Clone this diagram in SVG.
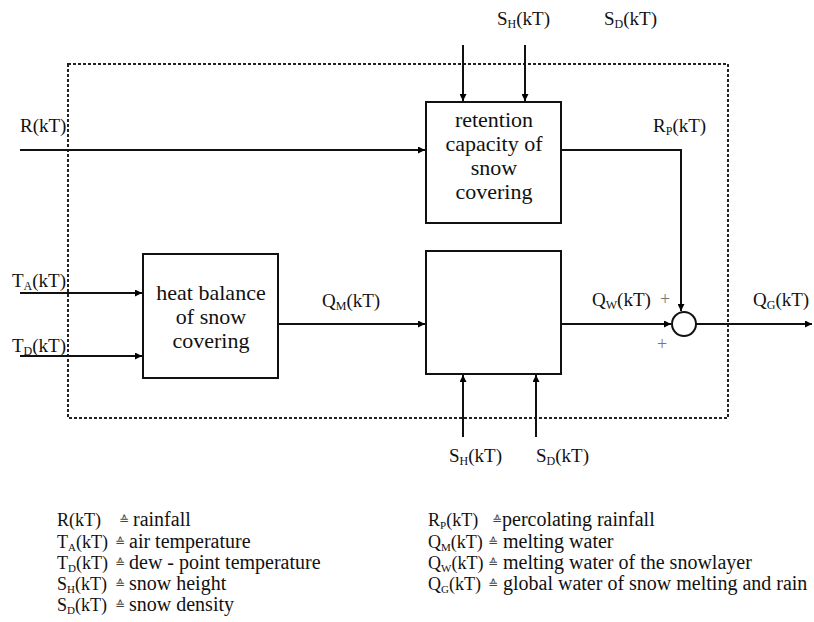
<svg xmlns="http://www.w3.org/2000/svg" width="814" height="622" viewBox="0 0 814 622" font-family="'Liberation Serif', 'Times New Roman', 'DejaVu Serif', serif">
<defs>
<marker id="arr" viewBox="0 0 10 10" refX="10" refY="5" markerWidth="9" markerHeight="7" markerUnits="userSpaceOnUse" orient="auto">
<path d="M0,0 L10,5 L0,10 z" fill="#000"/>
</marker>
<style>
text{font-family:'Liberation Serif','Times New Roman','DejaVu Serif',serif;fill:#111}
.box{fill:#fff;stroke:#111;stroke-width:2}
.nt{font-size:22px;text-anchor:middle}
.lb{font-size:19px}
.sub{font-size:12px}
.lk{font-size:18px}
.lk .sub{font-size:11px}
.lg{font-size:20px}
.eq{font-size:12px;fill:#444;font-family:'DejaVu Sans',sans-serif}
.ln{fill:none;stroke:#111;stroke-width:2}
.pl{font-size:18px;fill:#777;text-anchor:middle}
</style>
</defs>
<rect width="814" height="622" fill="#fff"/>
<rect id="system" x="68" y="64" width="660" height="354" fill="none" stroke="#222" stroke-width="2" stroke-dasharray="3,2"/>

<g id="connectors">
<line class="ln" x1="463" y1="45" x2="463" y2="101" marker-end="url(#arr)"/>
<line class="ln" x1="525" y1="45" x2="525" y2="101" marker-end="url(#arr)"/>
<line class="ln" x1="20" y1="150" x2="425" y2="150" marker-end="url(#arr)"/>
<polyline class="ln" points="561,150 681,150 681,311" marker-end="url(#arr)"/>
<line class="ln" x1="20" y1="293" x2="142" y2="293" marker-end="url(#arr)"/>
<line class="ln" x1="20" y1="356" x2="142" y2="356" marker-end="url(#arr)"/>
<line class="ln" x1="278" y1="324" x2="425" y2="324" marker-end="url(#arr)"/>
<line class="ln" x1="561" y1="324" x2="671" y2="324" marker-end="url(#arr)"/>
<line class="ln" x1="696" y1="324" x2="812" y2="324" marker-end="url(#arr)"/>
<line class="ln" x1="463" y1="437" x2="463" y2="375" marker-end="url(#arr)"/>
<line class="ln" x1="536" y1="437" x2="536" y2="375" marker-end="url(#arr)"/>
</g>

<g id="retention">
<rect class="box" x="426" y="102" width="135" height="121"/>
<text class="nt" x="494" y="127">retention</text>
<text class="nt" x="494" y="151">capacity of</text>
<text class="nt" x="494" y="175">snow</text>
<text class="nt" x="494" y="199">covering</text>
</g>

<g id="heatbalance">
<rect class="box" x="143" y="254" width="135" height="124"/>
<text class="nt" x="211" y="300">heat balance</text>
<text class="nt" x="211" y="324">of snow</text>
<text class="nt" x="211" y="348">covering</text>
</g>

<g id="melting">
<rect class="box" x="426" y="251" width="135" height="123"/>
</g>

<g id="sum">
<circle cx="684" cy="324" r="12" fill="#fff" stroke="#111" stroke-width="2"/>
<text class="pl" x="665" y="305">+</text>
<text class="pl" x="662" y="350">+</text>
</g>

<g id="labels">
<text class="lb" x="497" y="25">S<tspan class="sub" dy="3">H</tspan><tspan dy="-3">(kT)</tspan></text>
<text class="lb" x="604" y="25">S<tspan class="sub" dy="3">D</tspan><tspan dy="-3">(kT)</tspan></text>
<text class="lb" x="20" y="132">R(kT)</text>
<text class="lb" x="653" y="132">R<tspan class="sub" dy="3">P</tspan><tspan dy="-3">(kT)</tspan></text>
<text class="lb" x="12" y="287">T<tspan class="sub" dy="3">A</tspan><tspan dy="-3">(kT)</tspan></text>
<text class="lb" x="12" y="352">T<tspan class="sub" dy="3">D</tspan><tspan dy="-3">(kT)</tspan></text>
<text class="lb" x="322" y="307">Q<tspan class="sub" dy="3">M</tspan><tspan dy="-3">(kT)</tspan></text>
<text class="lb" x="592" y="306">Q<tspan class="sub" dy="3">W</tspan><tspan dy="-3">(kT)</tspan></text>
<text class="lb" x="753" y="306">Q<tspan class="sub" dy="3">G</tspan><tspan dy="-3">(kT)</tspan></text>
<text class="lb" x="449" y="462">S<tspan class="sub" dy="3">H</tspan><tspan dy="-3">(kT)</tspan></text>
<text class="lb" x="536" y="462">S<tspan class="sub" dy="3">D</tspan><tspan dy="-3">(kT)</tspan></text>
</g>

<g id="legend">
<text class="lk" x="57" y="526">R(kT)</text><text class="eq" x="119" y="524">≙</text><text class="lg" x="133" y="526">rainfall</text>
<text class="lk" x="57" y="548">T<tspan class="sub" dy="3">A</tspan><tspan dy="-3">(kT)</tspan></text><text class="eq" x="115" y="546">≙</text><text class="lg" x="129" y="548">air temperature</text>
<text class="lk" x="57" y="569">T<tspan class="sub" dy="3">D</tspan><tspan dy="-3">(kT)</tspan></text><text class="eq" x="115" y="567">≙</text><text class="lg" x="129" y="569">dew - point temperature</text>
<text class="lk" x="57" y="590">S<tspan class="sub" dy="3">H</tspan><tspan dy="-3">(kT)</tspan></text><text class="eq" x="115" y="588">≙</text><text class="lg" x="129" y="590">snow height</text>
<text class="lk" x="57" y="611">S<tspan class="sub" dy="3">D</tspan><tspan dy="-3">(kT)</tspan></text><text class="eq" x="115" y="609">≙</text><text class="lg" x="129" y="611">snow density</text>
<text class="lk" x="428" y="526">R<tspan class="sub" dy="3">P</tspan><tspan dy="-3">(kT)</tspan></text><text class="eq" x="492" y="524">≙</text><text class="lg" x="502" y="526">percolating rainfall</text>
<text class="lk" x="428" y="548">Q<tspan class="sub" dy="3">M</tspan><tspan dy="-3">(kT)</tspan></text><text class="eq" x="488" y="546">≙</text><text class="lg" x="503" y="548">melting water</text>
<text class="lk" x="428" y="569">Q<tspan class="sub" dy="3">W</tspan><tspan dy="-3">(kT)</tspan></text><text class="eq" x="488" y="567">≙</text><text class="lg" x="503" y="569">melting water of the snowlayer</text>
<text class="lk" x="428" y="590">Q<tspan class="sub" dy="3">G</tspan><tspan dy="-3">(kT)</tspan></text><text class="eq" x="488" y="588">≙</text><text class="lg" x="503" y="590">global water of snow melting and rain</text>
</g>
</svg>
